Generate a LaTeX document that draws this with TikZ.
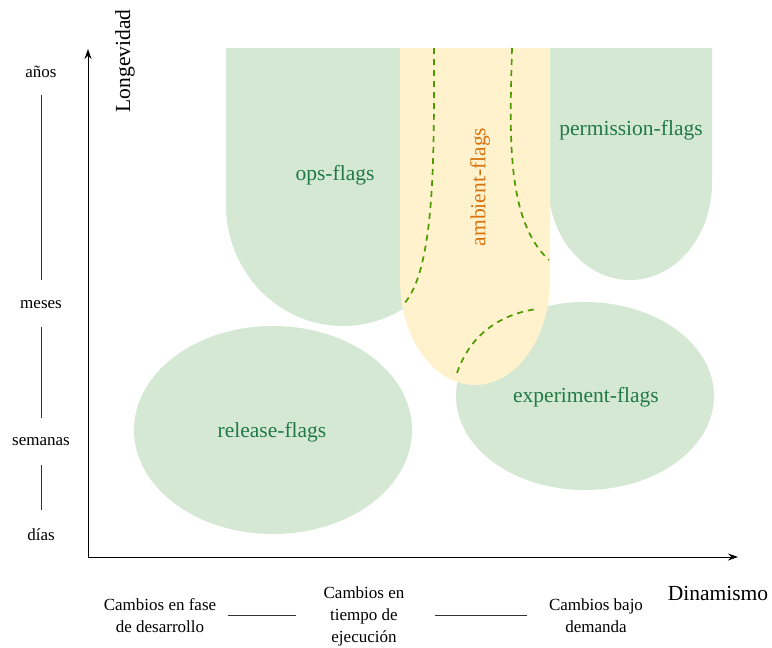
\documentclass[tikz,border=0pt]{standalone}
\usepackage{fontspec}
\setmainfont{Liberation Serif}
\usetikzlibrary{arrows.meta}
\definecolor{flaggreen}{HTML}{D5E8D4}
\definecolor{flagyellow}{HTML}{FFF2CC}
\definecolor{labelgreen}{HTML}{217A45}
\definecolor{labelorange}{HTML}{D7730F}
\definecolor{edgegreen}{HTML}{4D9900}
\tikzset{
  region/.style={fill=flaggreen, draw=none},
  ambient/.style={fill=flagyellow, draw=none},
  flaglabel/.style={text=labelgreen, font=\fontsize{21.5}{24}\selectfont},
  axislabel/.style={font=\fontsize{21.5}{24}\selectfont},
  boundary/.style={draw=edgegreen, line width=1.7pt, dash pattern=on 6pt off 5pt},
  scalelabel/.style={font=\fontsize{17}{22}\selectfont, align=center},
  scaleline/.style={draw=black!80, line width=0.8pt},
  axis/.style={draw=black, line width=0.9pt, -{Stealth[length=10pt,width=7pt]}},
}
\begin{document}
\begin{tikzpicture}[x=1pt,y=-1pt]
\useasboundingbox (0,0) rectangle (772,648);

% green flag families
\path[region] (226,48) -- (460,48) -- (460,205) arc[start angle=0, end angle=180, x radius=117, y radius=121] -- cycle;
\path[region] (548,48) -- (712,48) -- (712,183) arc[start angle=0, end angle=180, x radius=82, y radius=97] -- cycle;
\path[region] (585,396) ellipse[x radius=129, y radius=94];
\path[region] (273,430) ellipse[x radius=139, y radius=104];

% runtime band
\path[ambient] (400,48) -- (550,48) -- (550,280) arc[start angle=0, end angle=180, x radius=75, y radius=105] -- cycle;

% dashed boundaries
\coordinate (l0) at (434,48);
\coordinate (l1) at (403,305);
\coordinate (r0) at (512,48);
\coordinate (r1) at (549,260);
\coordinate (b0) at (457,373);
\coordinate (b1) at (537,309);
\draw[boundary] (l0) .. controls (434,150) and (436,270) .. (l1);
\draw[boundary] (r0) .. controls (510,130) and (505,220) .. (r1);
\draw[boundary] (b0) .. controls (470,335) and (500,314) .. (b1);

% labels
\node[flaglabel] (ops) at (335,175) {ops-flags};
\node[flaglabel] (perm) at (631,130) {permission-flags};
\node[flaglabel] (exp) at (586,397) {experiment-flags};
\node[flaglabel] (rel) at (272,432) {release-flags};
\node[flaglabel, text=labelorange, rotate=90] (amb) at (480,187) {ambient-flags};

% axes
\coordinate (origin) at (88,557);
\coordinate (ytop) at (88,49);
\coordinate (xend) at (738,557);
\draw[axis] (origin) -- (ytop);
\draw[axis] (origin) -- (xend);
\node[axislabel, rotate=90] (ylab) at (125,61) {Longevidad};
\node[axislabel] (xlab) at (718,593) {Dinamismo};

% longevity scale
\node[scalelabel] (anos) at (41,72) {años};
\node[scalelabel] (meses) at (41,305) {meses};
\node[scalelabel] (semanas) at (41,442) {semanas};
\node[scalelabel] (dias) at (41,535) {días};
\draw[scaleline] (41,95) -- (41,280);
\draw[scaleline] (41,327) -- (41,418);
\draw[scaleline] (41,465) -- (41,510);

% dynamism scale
\node[scalelabel] (dev) at (160,616) {Cambios en fase\\de desarrollo};
\node[scalelabel] (run) at (364,616) {Cambios en\\tiempo de\\ejecución};
\node[scalelabel] (dem) at (596,616) {Cambios bajo\\demanda};
\draw[scaleline] (228,615) -- (296,615);
\draw[scaleline] (435,615) -- (527,615);
\end{tikzpicture}
\end{document}
